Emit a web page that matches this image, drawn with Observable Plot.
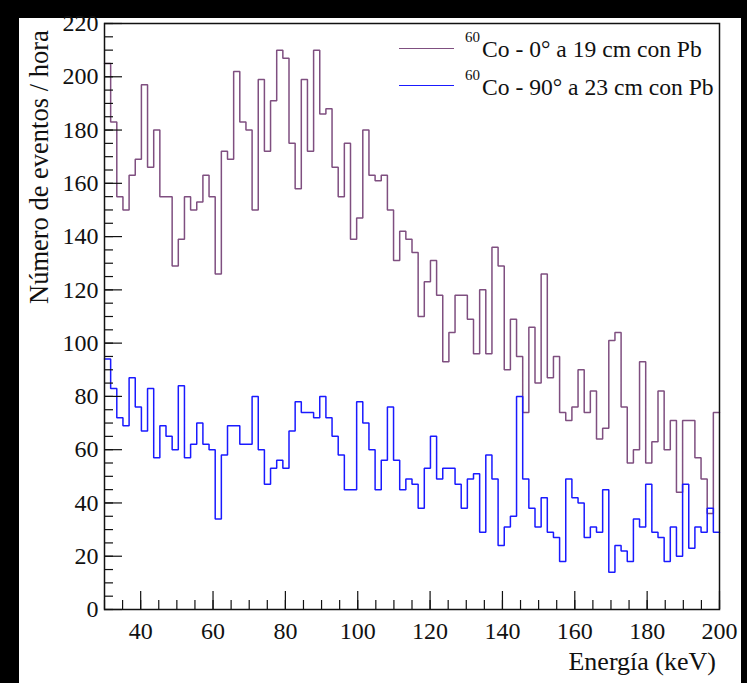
<!DOCTYPE html>
<html><head><meta charset="utf-8">
<script src="https://cdn.jsdelivr.net/npm/d3@7"></script>
<script src="https://cdn.jsdelivr.net/npm/@observablehq/plot@0.6"></script>
<style>
html,body{margin:0;padding:0;background:#000;width:747px;height:683px;overflow:hidden;position:relative;}
#panel{position:absolute;left:19px;top:18px;width:722px;height:665px;background:#fff;}
#chart{position:absolute;left:0;top:0;}
.t{position:absolute;font-family:"Liberation Serif","Times New Roman",serif;color:#111;white-space:nowrap;}
#ytitle{left:24px;top:304px;font-size:26.5px;line-height:30px;transform-origin:0 0;transform:rotate(-90deg);}
#xtitle{right:31px;top:647px;font-size:26px;line-height:30px;}
.lline{position:absolute;height:0;width:55px;}
.sup{font-size:15px;line-height:15px;}
.ltxt{font-size:23.6px;line-height:23px;}
</style></head><body>
<div id="panel"></div>
<div id="chart"></div>
<div class="t" id="ytitle">Número de eventos / hora</div>
<div class="t" id="xtitle">Energía (keV)</div>
<div id="legend"></div>
<script>
// Histogram: 100 bins from 30 to 200 keV
const binStart = 30;
const binWidth = 1.7;
const seriesNames = ["Co - 0° a 19 cm con Pb", "Co - 90° a 23 cm con Pb"];
const isotope = "60";
const seriesColors = ["#7f4f80", "#1a1aff"];
const purple = [205,183,155,150,163,169,197,166,180,155,
155,129,139,155,150,153,163,155,126,172,
169,202,183,180,150,199,172,191,210,207,
175,158,199,172,210,186,188,166,155,175,
139,147,180,163,161,163,150,131,142,139,
134,110,123,131,118,93,104,118,118,109,
96,120,96,136,129,90,109,95,74,106,
85,126,87,95,74,71,76,90,74,82,
64,68,101,104,76,55,60,93,55,63,
82,60,71,44,71,71,57,49,36,74];
const blue = [94,83,72,69,87,76,67,83,57,69,
65,60,84,57,62,70,62,60,34,58,
69,69,62,62,80,60,47,53,56,53,
67,78,74,74,72,80,72,65,58,45,
45,78,70,60,45,56,76,56,45,49,
47,38,53,65,49,53,53,47,38,49,
51,29,58,49,24,31,35,80,49,38,
31,42,29,27,18,49,42,40,27,31,
29,45,14,24,22,18,34,31,47,29,
27,18,31,20,47,23,31,29,38,29];
const xTicks = [40,60,80,100,120,140,160,180,200];
const yTicks = [0,20,40,60,80,100,120,140,160,180,200,220];
const xMinor = d3.range(30, 200.01, 5);
const yMinor = d3.range(0, 220.01, 5);

function steps(values) {
  const out = [];
  values.forEach((v, i) => {
    out.push({x: binStart + i * binWidth, y: v});
    out.push({x: binStart + (i + 1) * binWidth, y: v});
  });
  return out;
}
const none = () => "";
const chart = Plot.plot({
  width: 747, height: 683,
  marginLeft: 104, marginRight: 28, marginTop: 23, marginBottom: 74,
  style: {background: "transparent", fontFamily: "'Liberation Serif', serif", color: "#111", overflow: "visible"},
  x: {domain: [30, 200]},
  y: {domain: [0, 220]},
  marks: [
    Plot.line(steps(purple), {x: "x", y: "y", stroke: seriesColors[0], strokeWidth: 1.5, strokeLinejoin: "miter"}),
    Plot.line(steps(blue), {x: "x", y: "y", stroke: seriesColors[1], strokeWidth: 1.5, strokeLinejoin: "miter"}),
    Plot.axisX({ticks: xMinor, tickSize: 9, dy: -9, tickFormat: none, label: null, strokeWidth: 1.2}),
    Plot.axisX({ticks: xTicks, tickSize: 18, dy: -18, tickFormat: none, label: null, strokeWidth: 1.2}),
    Plot.axisX({ticks: xTicks, tickSize: 0, tickPadding: 12, fontSize: 24, label: null}),
    Plot.axisY({ticks: yMinor, tickSize: 9, dx: 9, tickFormat: none, label: null, strokeWidth: 1.2}),
    Plot.axisY({ticks: yTicks, tickSize: 18, dx: 18, tickFormat: none, label: null, strokeWidth: 1.2}),
    Plot.axisY({ticks: yTicks, tickSize: 0, tickPadding: 6, fontSize: 24, label: null}),
    Plot.frame({stroke: "#111", strokeWidth: 1.5})
  ]
});
document.getElementById("chart").appendChild(chart);

// legend
const legend = document.getElementById("legend");
seriesNames.forEach((name, i) => {
  const off = i * 37.5;
  const ln = document.createElement("div");
  ln.className = "lline";
  ln.style.cssText = `left:399px;top:${47.5 + off}px;border-top:1.5px solid ${seriesColors[i]};`;
  legend.appendChild(ln);
  const sup = document.createElement("div");
  sup.className = "t sup";
  sup.style.left = "465px"; sup.style.top = (30 + off) + "px";
  sup.textContent = isotope;
  legend.appendChild(sup);
  const tx = document.createElement("div");
  tx.className = "t ltxt";
  tx.style.left = "482px"; tx.style.top = (38 + off) + "px";
  tx.textContent = name;
  legend.appendChild(tx);
});
</script>
</body></html>
